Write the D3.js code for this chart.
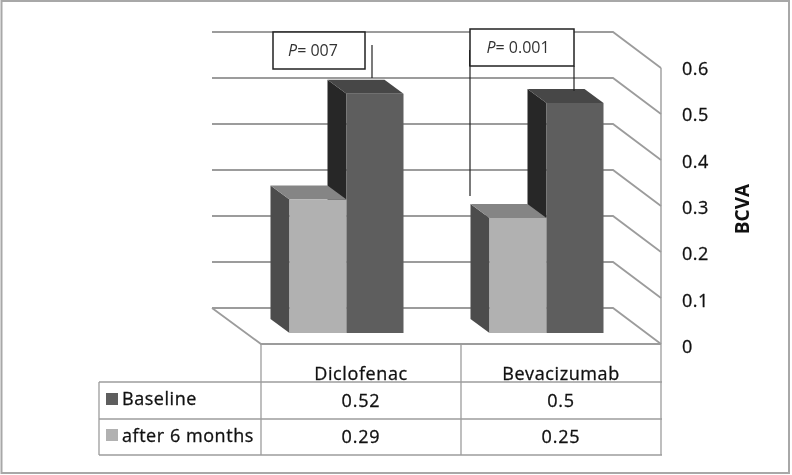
<!DOCTYPE html>
<html><head><meta charset="utf-8">
<script src="https://cdn.jsdelivr.net/npm/d3@7"></script>
<style>html,body{margin:0;padding:0;background:#fff}svg{display:block;filter:blur(0.55px)}text{font-family:"Open Sans","Noto Sans",sans-serif;fill:#111;stroke:#111;stroke-width:0.3px}</style>
</head><body><svg id="c" width="792" height="475"></svg>
<script>
const categories = ["Diclofenac", "Bevacizumab"];
const seriesNames = ["Baseline", "after 6 months"];
const baseline = [0.52, 0.5];
const after6 = [0.29, 0.25];
const tickValues = [0, 0.1, 0.2, 0.3, 0.4, 0.5, 0.6];
const tickLabels = ["0", "0.1", "0.2", "0.3", "0.4", "0.5", "0.6"];
const pLabels = ["007", "0.001"];
const axisTitle = "BCVA";

const svg = d3.select("#c");
const grid = "#9c9c9c";
const depth = {dx: 48, dy: 36};
const barOff = {dx: 19, dy: 14};
const y = d3.scaleLinear().domain([0, 0.6]).range([344, 68]);
const yLabel = d3.scaleLinear().domain([0, 0.6]).range([353, 75]);
const x = d3.scaleBand().domain(categories).range([261, 661]);
const barH = v => y(0) - y(v);
const line = d3.line();
const poly = (pts, fill) => svg.append("path").attr("d", line(pts) + "Z").attr("fill", fill);

// outer frame
svg.append("rect").attr("x", 1.5).attr("y", 1).attr("width", 787.5).attr("height", 472)
  .attr("fill", "#fff").attr("stroke", "#a8a8a8").attr("stroke-width", 2);

// walls and gridlines
tickValues.forEach(t => {
  const yf = y(t), yb = yf - depth.dy, xr = x.range()[1], xl = x.range()[0];
  svg.append("path").attr("fill", "none").attr("stroke", grid).attr("stroke-width", 1.8)
    .attr("d", line([[xl - depth.dx - 1, yb], [xr - depth.dx, yb], [xr, yf]]));
});
svg.append("path").attr("fill", "none").attr("stroke", grid).attr("stroke-width", 1.8)
  .attr("d", line([[x.range()[0] - 49, y(0) - 36], [x.range()[0], y(0)], [x.range()[1], y(0)]]));
svg.append("line").attr("x1", 661).attr("x2", 661).attr("y1", y(0.6)).attr("y2", y(0))
  .attr("stroke", grid).attr("stroke-width", 1.4);

// bars: the baseline bar first, then the light bar over its side face
const base = 333, bw = 57;
const draw = (x0, w, v, front, side, top) => {
  const t = base - barH(v);
  poly([[x0 - barOff.dx, t - barOff.dy], [x0, t], [x0, base], [x0 - barOff.dx, base - barOff.dy]], side);
  poly([[x0 - barOff.dx, t - barOff.dy], [x0 + w - barOff.dx, t - barOff.dy], [x0 + w, t], [x0, t]], top);
  svg.append("rect").attr("x", x0).attr("y", t).attr("width", w).attr("height", base - t).attr("fill", front);
};
categories.forEach((c, i) => {
  const x0 = x(c) + 28.5;
  draw(x0 + bw, bw, baseline[i], "#5e5e5e", "#272727", "#474747");
  draw(x0, bw, after6[i], "#b1b1b1", "#4c4c4c", "#858585");
});

// annotation boxes and leader lines
const dark = "#222";
const seg = (a, b, c, d, w = 1.2) => svg.append("line").attr("x1", a).attr("y1", b).attr("x2", c).attr("y2", d).attr("stroke", dark).attr("stroke-width", w);
seg(372, 45, 372, 78);
seg(574, 66, 574, 91);
seg(470, 50, 470, 196);
seg(470, 50, 470, 66, 2);
[[273, 32, 92, 37, -6], [470, 29, 104, 37, -4]].forEach((b, i) => {
  svg.append("rect").attr("x", b[0]).attr("y", b[1]).attr("width", b[2]).attr("height", b[3])
    .attr("fill", "#fff").attr("stroke", dark).attr("stroke-width", 1.5);
  const t = svg.append("text").attr("x", b[0] + b[2] / 2 + b[4]).attr("y", b[1] + 24)
    .attr("text-anchor", "middle").attr("font-size", 16).style("stroke-width", 0).style("fill", "#333");
  t.append("tspan").attr("font-style", "italic").text("P");
  t.append("tspan").text("= " + pLabels[i]);
});

// value axis labels
tickValues.forEach((t, i) => svg.append("text").attr("x", 682).attr("y", yLabel(t))
  .attr("font-size", 18).attr("letter-spacing", 0.5).text(tickLabels[i]));
svg.append("text").attr("transform", "translate(749,209) rotate(-90)").attr("text-anchor", "middle")
  .attr("font-size", 19).style("font-weight", 700).style("stroke-width", 0).text(axisTitle);

// data table
const rows = [382, 419, 455];
const vLines = [x.range()[0], x(categories[1]), x.range()[1]];
vLines.forEach(v => svg.append("line").attr("x1", v).attr("x2", v).attr("y1", y(0)).attr("y2", rows[2]).attr("stroke", grid).attr("stroke-width", 1.3));
rows.forEach(r => svg.append("line").attr("x1", 99).attr("x2", 662).attr("y1", r).attr("y2", r).attr("stroke", grid).attr("stroke-width", 1.5));
svg.append("line").attr("x1", 99).attr("x2", 99).attr("y1", rows[0]).attr("y2", rows[2]).attr("stroke", grid).attr("stroke-width", 1.3);

categories.forEach((c, i) => {
  const cx = x(c) + x.bandwidth() / 2;
  svg.append("text").attr("x", cx).attr("y", 380).attr("text-anchor", "middle").attr("font-size", 18).attr("letter-spacing", 0.6).text(c);
  svg.append("text").attr("x", cx).attr("y", 407).attr("text-anchor", "middle").attr("font-size", 18).attr("letter-spacing", 0.8).text(baseline[i]);
  svg.append("text").attr("x", cx).attr("y", 443).attr("text-anchor", "middle").attr("font-size", 18).attr("letter-spacing", 0.8).text(after6[i]);
});
seriesNames.forEach((s, i) => {
  const top = rows[i];
  svg.append("rect").attr("x", 106).attr("y", top + 11 - i).attr("width", 12).attr("height", 12).attr("fill", i ? "#b1b1b1" : "#5e5e5e");
  svg.append("text").attr("x", 122).attr("y", top + 23).attr("font-size", 18).attr("letter-spacing", 0.55).text(s);
});
</script></body></html>
